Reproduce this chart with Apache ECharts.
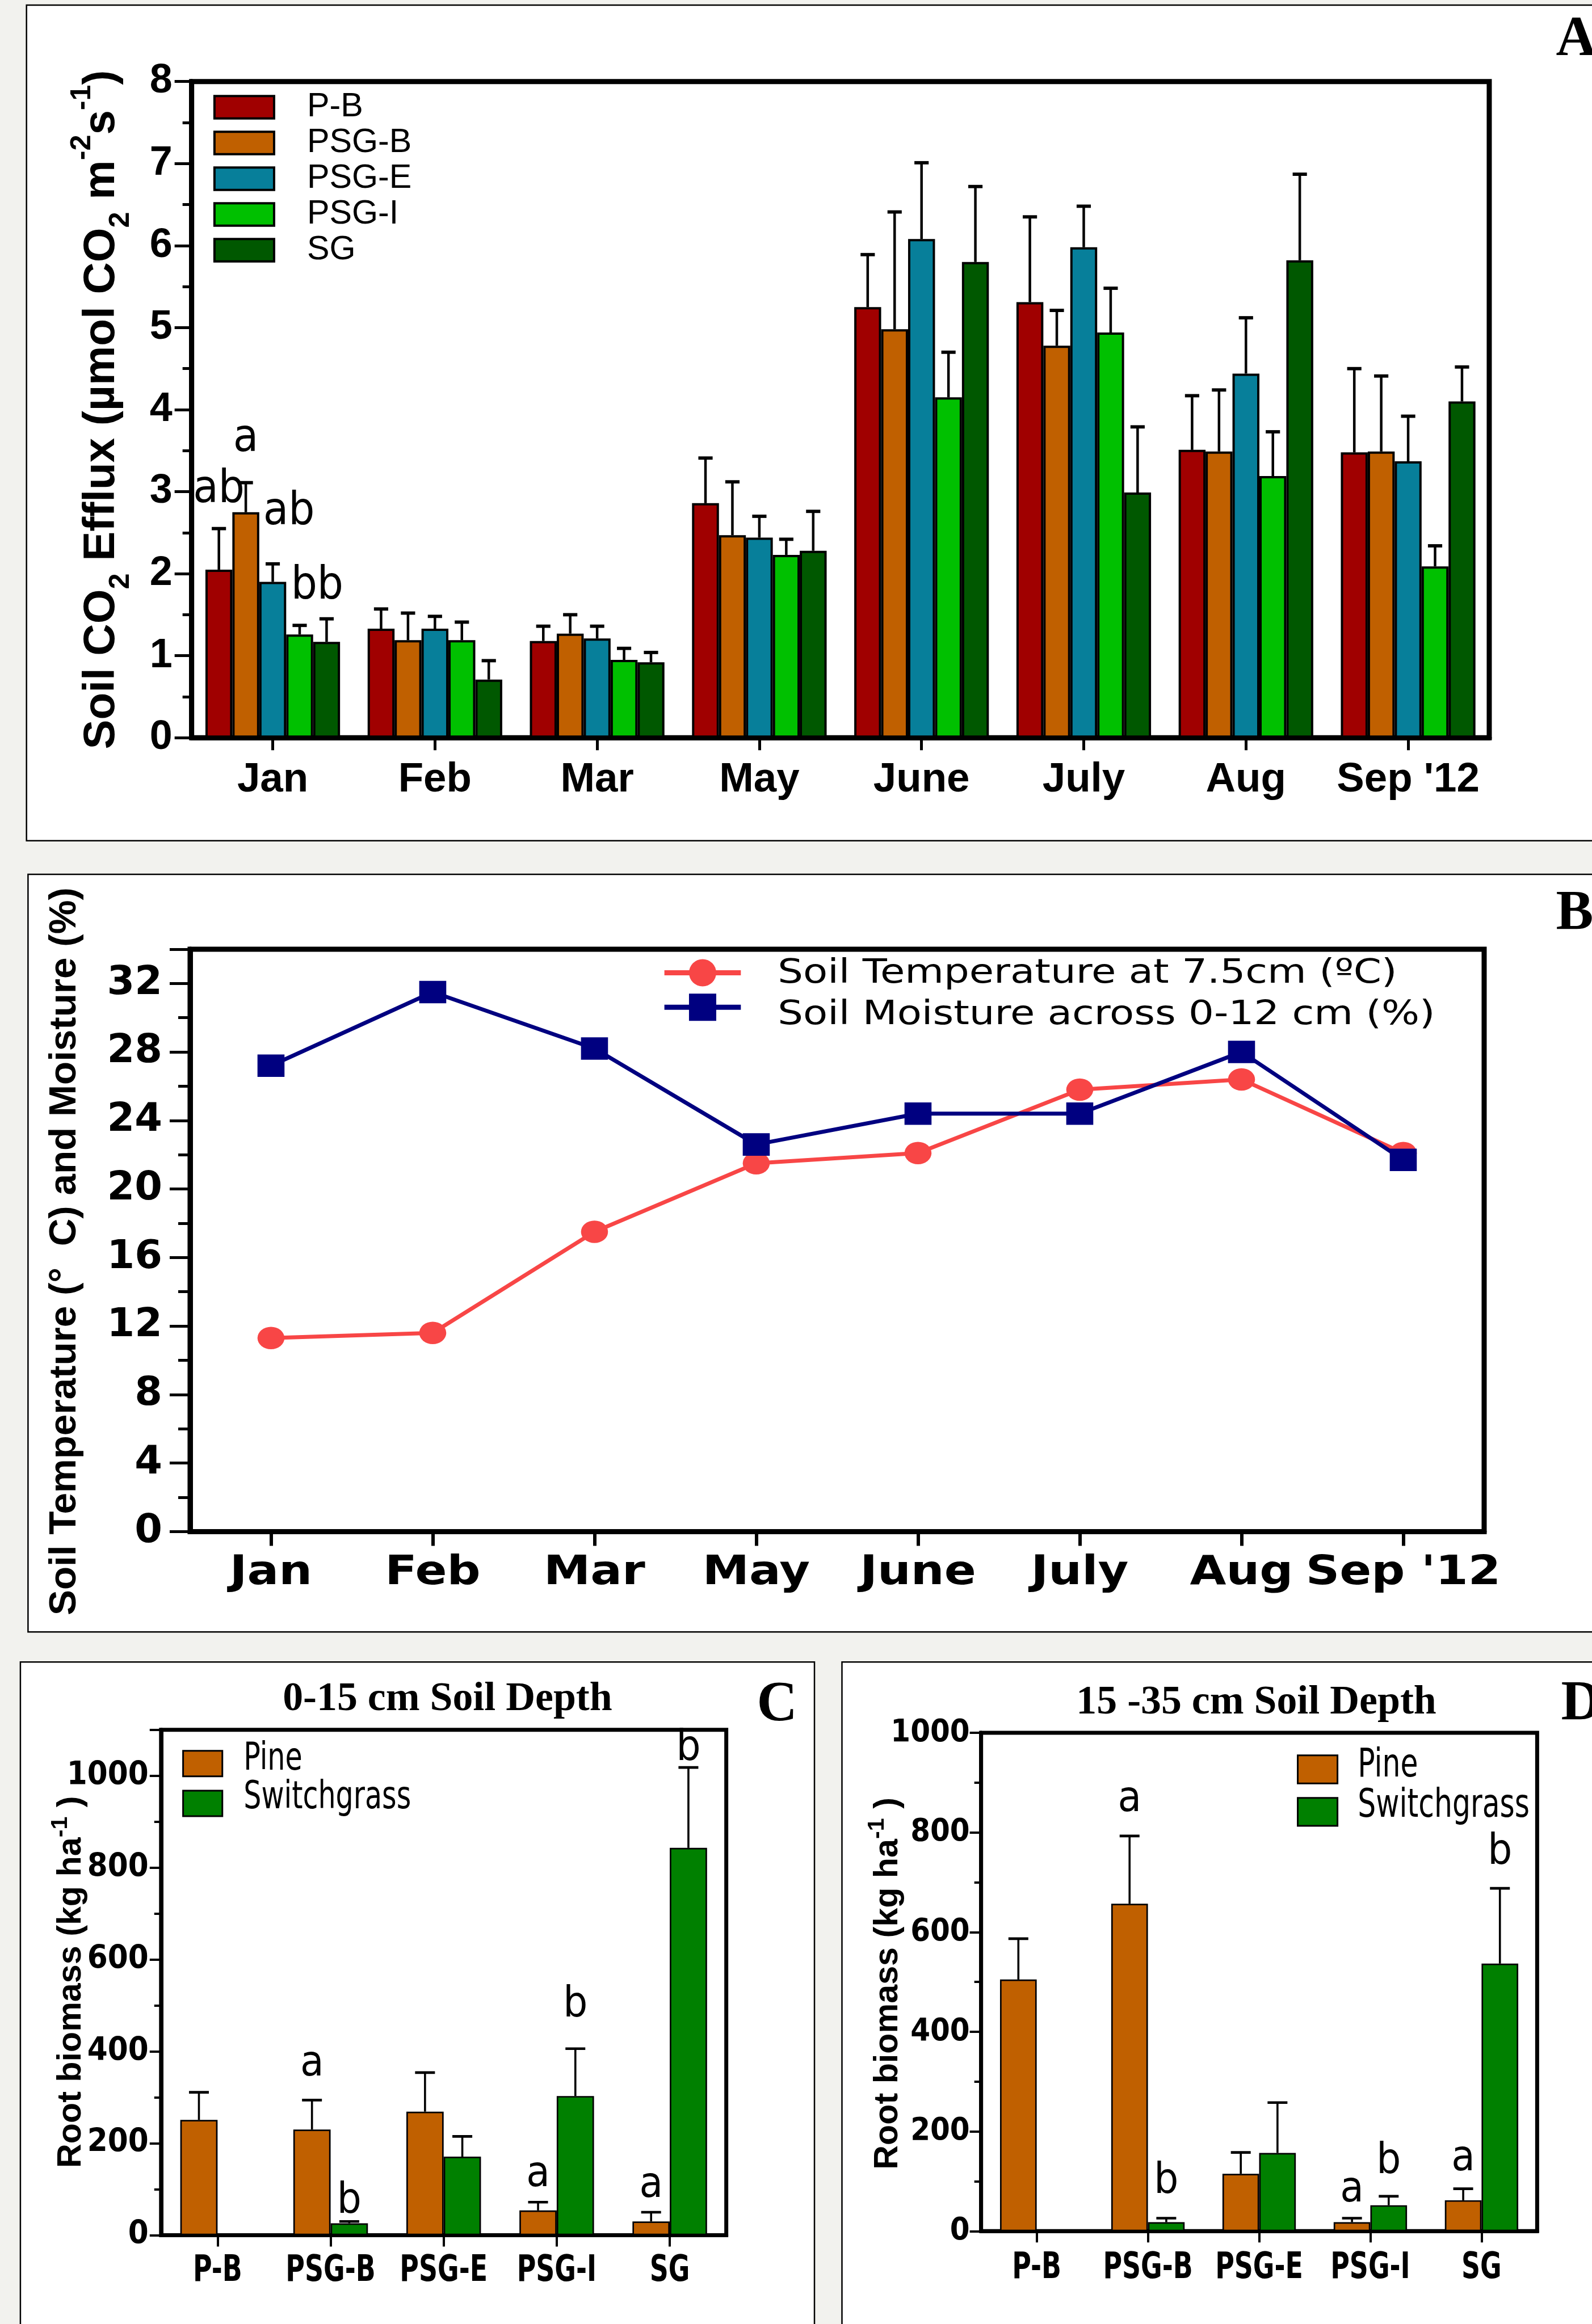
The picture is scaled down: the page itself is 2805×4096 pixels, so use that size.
<!DOCTYPE html>
<html>
<head>
<meta charset="utf-8">
<script src="https://cdn.jsdelivr.net/npm/echarts@6/dist/echarts.min.js"></script>
<style>
  html, body { margin: 0; padding: 0; background: #f2f2ee; }
  #chart { width: 2805px; height: 4096px; }
</style>
</head>
<body>
<div id="chart"></div>
<script>
// everything below is laid out in reference pixels and shrunk by S
const S = 0.898;
const p = v => v * S;

// ---- panel A: soil CO2 efflux ----
const months = ['Jan', 'Feb', 'Mar', 'May', 'June', 'July', 'Aug', "Sep '12"];
const treatments = ['P-B', 'PSG-B', 'PSG-E', 'PSG-I', 'SG'];
const fluxPB   = [2.05, 1.33, 1.18, 2.86, 5.25, 5.31, 3.51, 3.48];
const fluxPSGB = [2.75, 1.19, 1.27, 2.47, 4.98, 4.78, 3.49, 3.49];
const fluxPSGE = [1.90, 1.33, 1.21, 2.44, 6.08, 5.98, 4.44, 3.37];
const fluxPSGI = [1.26, 1.19, 0.95, 2.23, 4.15, 4.94, 3.19, 2.09];
const fluxSG   = [1.17, 0.71, 0.92, 2.28, 5.80, 2.99, 5.82, 4.10];
const sePB   = [0.50, 0.24, 0.18, 0.55, 0.64, 1.04, 0.66, 1.02];
const sePSGB = [0.36, 0.33, 0.23, 0.65, 1.43, 0.43, 0.75, 0.92];
const sePSGE = [0.22, 0.15, 0.15, 0.26, 0.93, 0.50, 0.68, 0.55];
const sePSGI = [0.11, 0.22, 0.14, 0.19, 0.55, 0.54, 0.54, 0.25];
const seSG   = [0.28, 0.23, 0.12, 0.48, 0.92, 0.80, 1.05, 0.42];
// significance letters: [month index, bar slot, y value]
const fluxLetterPos  = [[0, 0, 3.02], [0, 1, 3.64], [0, 2.6, 2.75], [0, 3.65, 1.84]];
const fluxLetterText = ['ab', 'a', 'ab', 'bb'];

// ---- panel B: temperature and moisture ----
const tempName = 'Soil Temperature at 7.5cm (ºC)';
const moistName = 'Soil Moisture across 0-12 cm (%)';
const soilTemp  = [11.3, 11.6, 17.5, 21.5, 22.1, 25.8, 26.4, 22.1];
const soilMoist = [27.2, 31.5, 28.2, 22.6, 24.4, 24.4, 28.0, 21.7];

// ---- panels C and D: root biomass ----
const sites = ['P-B', 'PSG-B', 'PSG-E', 'PSG-I', 'SG'];
const rootNames = ['Pine', 'Switchgrass'];
const pineC   = [251, 230, 269, 54, 30];
const pineCse = [60, 64, 85, 18, 20];
const swC     = [null, 26, 171, 303, 843];
const swCse   = [null, 4, 44, 103, 175];
const pineD   = [505, 657, 115, 18, 62];
const pineDse = [82, 136, 43, 8, 23];
const swD     = [null, 18, 157, 52, 537];
const swDse   = [null, 8, 101, 18, 151];
const letterPosC  = [[1, 0, 372], [1, 1, 73], [3, 0, 131], [3, 1, 500], [4, 0, 108], [4, 1, 1058]];
const letterTextC = ['a', 'b', 'a', 'b', 'a', 'b'];
const letterPosD  = [[1, 0, 865], [1, 1, 99], [3, 0, 82], [3, 1, 139], [4, 0, 144], [4, 1, 759]];
const letterTextD = ['a', 'b', 'a', 'b', 'a', 'b'];

const fluxColors = ['#a00000', '#c06000', '#077f9a', '#00c000', '#005800'];
const pineColor = '#c06000';
const swColor = '#008000';

const SANS = '"Liberation Sans", Arial, sans-serif';
const NARROW = '"DejaVu Sans Condensed", "Liberation Sans Narrow", sans-serif';
const WIDE = '"DejaVu Sans", Verdana, sans-serif';
const SERIF = '"Liberation Serif", "Times New Roman", serif';

function errData(means, ses) {
  const out = [];
  means.forEach((arr, k) => arr.forEach((m, i) => {
    if (m != null && ses[k][i] != null) out.push([i, k, m, ses[k][i]]);
  }));
  return out;
}

function errorBars(nBars, gap, capW, lw) {
  return (params, api) => {
    const band = api.size([1, 0])[0];
    const gw = band * (1 - gap), bw = gw / nBars;
    const m = api.value(2), e = api.value(3);
    const c = api.coord([api.value(0), m]);
    const t = api.coord([api.value(0), m + e]);
    const x = c[0] - gw / 2 + bw * (api.value(1) + 0.5);
    return {
      type: 'group',
      children: [
        { type: 'line', shape: { x1: x, y1: c[1], x2: x, y2: t[1] }, style: { stroke: '#000', lineWidth: lw } },
        { type: 'line', shape: { x1: x - capW / 2, y1: t[1], x2: x + capW / 2, y2: t[1] }, style: { stroke: '#000', lineWidth: lw * 1.3 } }
      ]
    };
  };
}

function letters(nBars, gap, texts, font) {
  return (params, api) => {
    const band = api.size([1, 0])[0];
    const gw = band * (1 - gap), bw = gw / nBars;
    const c = api.coord([api.value(0), api.value(2)]);
    return {
      type: 'text',
      x: c[0] - gw / 2 + bw * (api.value(1) + 0.5),
      y: c[1],
      style: { text: texts[params.dataIndex], font: font, fill: '#000', align: 'center', verticalAlign: 'middle' }
    };
  };
}

// category labels drawn under the axis, squeezed or stretched like the original type
function catLabels(texts, font, dy, sx) {
  return (params, api) => {
    const i = api.value(0);
    const c = api.coord([i, 0]);
    return {
      type: 'text', x: c[0], y: c[1] + dy, scaleX: sx,
      style: { text: texts[i], font: font, fill: '#000', align: 'center', verticalAlign: 'middle' }
    };
  };
}

function valueAxis(grid, max, interval, o) {
  return {
    gridIndex: grid, type: 'value', min: 0, max: max, interval: interval,
    axisLine: { show: true, lineStyle: { color: '#000', width: o.line } },
    axisTick: { show: true, length: o.tick, lineStyle: { color: '#000', width: o.tickW } },
    minorTick: { show: true, splitNumber: 2, length: o.minor, lineStyle: { color: '#000', width: o.tickW } },
    splitLine: { show: false },
    axisLabel: {
      showMaxLabel: o.showMax, margin: o.margin, color: '#000', fontSize: o.font, fontWeight: 'bold', fontFamily: o.family,
      formatter: v => String(v)
    }
  };
}

function catAxis(grid, data, o) {
  return {
    gridIndex: grid, type: 'category', data: data,
    axisLine: { show: true, lineStyle: { color: '#000', width: o.line } },
    axisTick: { show: true, alignWithLabel: true, length: o.tick, lineStyle: { color: '#000', width: o.tickW } },
    axisLabel: { show: o.labels, interval: 0, margin: o.margin, color: '#000', fontSize: o.font, fontWeight: 'bold', fontFamily: o.family }
  };
}

const gridBox = w => ({ show: true, borderColor: '#000', borderWidth: w, backgroundColor: 'transparent' });

const fluxMeans = [fluxPB, fluxPSGB, fluxPSGE, fluxPSGI, fluxSG];
const fluxSes = [sePB, sePSGB, sePSGE, sePSGI, seSG];

const series = [];
fluxMeans.forEach((arr, k) => {
  series.push({
    name: treatments[k], type: 'bar', xAxisIndex: 0, yAxisIndex: 0, data: arr,
    barGap: '0%', barCategoryGap: '17%',
    itemStyle: { color: fluxColors[k], borderColor: '#000', borderWidth: 4 }
  });
});
series.push({
  type: 'custom', xAxisIndex: 0, yAxisIndex: 0, silent: true, z: 4,
  renderItem: errorBars(5, 0.17, p(28), 4.5),
  encode: { x: 0, y: 2 }, data: errData(fluxMeans, fluxSes)
});
series.push({
  type: 'custom', xAxisIndex: 0, yAxisIndex: 0, silent: true, z: 5,
  renderItem: letters(5, 0.17, fluxLetterText, p(90) + 'px ' + NARROW),
  encode: { x: 0, y: 2 }, data: fluxLetterPos
});

series.push({
  name: tempName, type: 'line', xAxisIndex: 1, yAxisIndex: 1, data: soilTemp,
  symbol: 'circle', symbolSize: [p(53), p(44)],
  lineStyle: { color: '#f84646', width: 7 }, itemStyle: { color: '#f84646' }
});
series.push({
  name: moistName, type: 'line', xAxisIndex: 1, yAxisIndex: 1, data: soilMoist,
  symbol: 'rect', symbolSize: [p(53), p(44)],
  lineStyle: { color: '#000080', width: 7 }, itemStyle: { color: '#000080' }
});
series.push({
  type: 'custom', xAxisIndex: 1, yAxisIndex: 1, silent: true, z: 5,
  renderItem: catLabels(months, 'bold ' + p(80) + 'px ' + WIDE, p(82), 1.15),
  encode: { x: 0, y: 1 }, data: months.map((m, i) => [i, 0])
});

[[2, pineC, pineCse, swC, swCse, letterPosC, letterTextC, p(71)],
 [3, pineD, pineDse, swD, swDse, letterPosD, letterTextD, p(74)]].forEach(([g, pm, pse, sm, sse, lp, lt, dy]) => {
  series.push({
    name: rootNames[0], type: 'bar', xAxisIndex: g, yAxisIndex: g, data: pm,
    barGap: '0%', barCategoryGap: '34%',
    itemStyle: { color: pineColor, borderColor: '#000', borderWidth: 2.7 }
  });
  series.push({
    name: rootNames[1], type: 'bar', xAxisIndex: g, yAxisIndex: g, data: sm,
    barGap: '0%', barCategoryGap: '34%',
    itemStyle: { color: swColor, borderColor: '#000', borderWidth: 2.7 }
  });
  series.push({
    type: 'custom', xAxisIndex: g, yAxisIndex: g, silent: true, z: 4,
    renderItem: errorBars(2, 0.34, p(39), 3.6),
    encode: { x: 0, y: 2 }, data: errData([pm, sm], [pse, sse])
  });
  series.push({
    type: 'custom', xAxisIndex: g, yAxisIndex: g, silent: true, z: 5,
    renderItem: letters(2, 0.34, lt, p(84) + 'px ' + NARROW),
    encode: { x: 0, y: 2 }, data: lp
  });
  series.push({
    type: 'custom', xAxisIndex: g, yAxisIndex: g, silent: true, z: 5,
    renderItem: catLabels(sites, 'bold ' + p(71) + 'px ' + NARROW, dy, 0.8),
    encode: { x: 0, y: 1 }, data: sites.map((s, i) => [i, 0])
  });
});

const panel = (x, y, w, h) => ({
  type: 'rect', z: -1, shape: { x: p(x), y: p(y), width: p(w), height: p(h) },
  style: { fill: '#fff', stroke: '#000', lineWidth: 2.5 }
});
const label = (t, x, y, size, family, align) => ({
  type: 'text', z: 10, x: p(x), y: p(y),
  style: { text: t, font: 'bold ' + p(size) + 'px ' + family, fill: '#000', align: align || 'left', verticalAlign: 'middle' }
});
const legendText = (t, x, y, size, family, sx) => ({
  type: 'text', z: 10, x: p(x), y: p(y), scaleX: sx,
  style: { text: t, font: p(size) + 'px ' + family, fill: '#000', align: 'left', verticalAlign: 'middle' }
});
const iconLegend = (names, left, top, w, h, gap, extra) => Object.assign({
  data: names, orient: 'vertical', left: p(left), top: p(top), selectedMode: false,
  itemWidth: w, itemHeight: h, itemGap: gap,
  formatter: () => '',
  textStyle: { fontSize: 4, lineHeight: 4 }
}, extra);

const option = {
  animation: false,
  backgroundColor: '#f2f2ee',
  grid: [
    Object.assign({ left: p(376), top: p(160), width: p(2546), height: p(1288) }, gridBox(9)),
    Object.assign({ left: p(373), top: p(1863), width: p(2539), height: p(1143) }, gridBox(9)),
    Object.assign({ left: p(316), top: p(3395), width: p(1109), height: p(992) }, gridBox(7)),
    Object.assign({ left: p(1925), top: p(3401), width: p(1091), height: p(978) }, gridBox(7))
  ],
  xAxis: [
    catAxis(0, months, { labels: true, line: 9, tick: 22, tickW: 5, margin: 38, font: p(81), family: SANS }),
    catAxis(1, months, { labels: false, line: 9, tick: 25, tickW: 6 }),
    catAxis(2, sites, { labels: false, line: 7, tick: 20, tickW: 4 }),
    catAxis(3, sites, { labels: false, line: 7, tick: 20, tickW: 4 })
  ],
  yAxis: [
    valueAxis(0, 8, 1, { line: 9, tick: 30, minor: 16, tickW: 5, margin: 34, font: p(80), family: SANS, showMax: true }),
    valueAxis(1, 34, 4, { line: 9, tick: 36, minor: 21, tickW: 5, margin: 49, font: p(78), family: WIDE, showMax: false }),
    valueAxis(2, 1100, 200, { line: 7, tick: 20, minor: 12, tickW: 4, margin: 22, font: p(64), family: NARROW, showMax: false }),
    valueAxis(3, 1000, 200, { line: 7, tick: 20, minor: 12, tickW: 4, margin: 20, font: p(62), family: NARROW, showMax: true })
  ],
  legend: [
    {
      data: treatments, orient: 'vertical', left: p(413), top: p(172), selectedMode: false,
      itemWidth: p(117), itemHeight: p(44), itemGap: 4, icon: 'rect',
      itemStyle: { borderColor: '#000', borderWidth: 4 },
      textStyle: { fontFamily: SANS, fontSize: p(66), color: '#000', padding: [0, 0, 0, 53] }
    },
    iconLegend([tempName, moistName], 1293, 1877, p(150), 60, 12.7, { lineStyle: { width: 9 } }),
    iconLegend(rootNames, 352, 3429, p(77), p(50), p(25), { icon: 'rect', itemStyle: { borderColor: '#000', borderWidth: 3 } }),
    iconLegend(rootNames, 2539, 3438, p(78), p(55), p(25), { icon: 'rect', itemStyle: { borderColor: '#000', borderWidth: 3 } })
  ],
  graphic: [
    panel(52, 10, 3200, 1640),
    panel(55, 1716, 3200, 1487),
    panel(40, 3262, 1558, 1400),
    panel(1652, 3262, 1600, 1400),
    label('A', 3053, 80, 110, SERIF),
    label('B', 3053, 1795, 110, SERIF),
    label('C', 1485, 3347, 110, SERIF),
    label('D', 3063, 3346, 110, SERIF),
    label('0-15 cm Soil Depth', 878, 3336, 80, SERIF, 'center'),
    label('15 -35 cm Soil Depth', 2465, 3342, 80, SERIF, 'center'),
    legendText(tempName, 1526, 1912, 66, WIDE, 1.19),
    legendText(moistName, 1526, 1993, 66, WIDE, 1.19),
    legendText(rootNames[0], 478, 3454, 76, NARROW, 0.8),
    legendText(rootNames[1], 478, 3529, 76, NARROW, 0.8),
    legendText(rootNames[0], 2664, 3466, 78, NARROW, 0.8),
    legendText(rootNames[1], 2664, 3545, 78, NARROW, 0.8),
    {
      type: 'text', z: 10, x: p(200), y: p(804), rotation: Math.PI / 2,
      style: {
        text: '{m|Soil CO}{s|2}{m| Efflux (µmol CO}{s|2}{m| m}{u|-2}{m|s}{u|-1}{m|)}',
        align: 'center', verticalAlign: 'middle',
        rich: {
          m: { fontSize: p(87), fontWeight: 'bold', fontFamily: SANS, fill: '#000', lineHeight: 118, verticalAlign: 'middle' },
          s: { fontSize: p(56), fontWeight: 'bold', fontFamily: SANS, fill: '#000', lineHeight: 62, verticalAlign: 'bottom' },
          u: { fontSize: p(56), fontWeight: 'bold', fontFamily: SANS, fill: '#000', lineHeight: 50, verticalAlign: 'top' }
        }
      }
    },
    {
      type: 'text', z: 10, x: p(127), y: p(2456), rotation: Math.PI / 2,
      style: {
        text: 'Soil Temperature (°  C) and Moisture (%)', align: 'center', verticalAlign: 'middle',
        font: 'bold ' + p(75) + 'px ' + SANS, fill: '#000'
      }
    },
    {
      type: 'text', z: 10, x: p(140), y: p(3890), rotation: Math.PI / 2,
      style: {
        text: '{m|Root biomass (kg ha}{u|-1}{m| )}', align: 'center', verticalAlign: 'middle',
        rich: {
          m: { fontSize: p(66), fontWeight: 'bold', fontFamily: SANS, fill: '#000', lineHeight: 79, verticalAlign: 'middle' },
          u: { fontSize: p(46), fontWeight: 'bold', fontFamily: SANS, fill: '#000', lineHeight: 41, verticalAlign: 'top' }
        }
      }
    },
    {
      type: 'text', z: 10, x: p(1742), y: p(3893), rotation: Math.PI / 2,
      style: {
        text: '{m|Root biomass (kg ha}{u|-1}{m| )}', align: 'center', verticalAlign: 'middle',
        rich: {
          m: { fontSize: p(66), fontWeight: 'bold', fontFamily: SANS, fill: '#000', lineHeight: 79, verticalAlign: 'middle' },
          u: { fontSize: p(46), fontWeight: 'bold', fontFamily: SANS, fill: '#000', lineHeight: 41, verticalAlign: 'top' }
        }
      }
    }
  ],
  series: series
};

const chart = echarts.init(document.getElementById('chart'), null, { renderer: 'canvas' });
chart.setOption(option);
</script>
</body>
</html>
